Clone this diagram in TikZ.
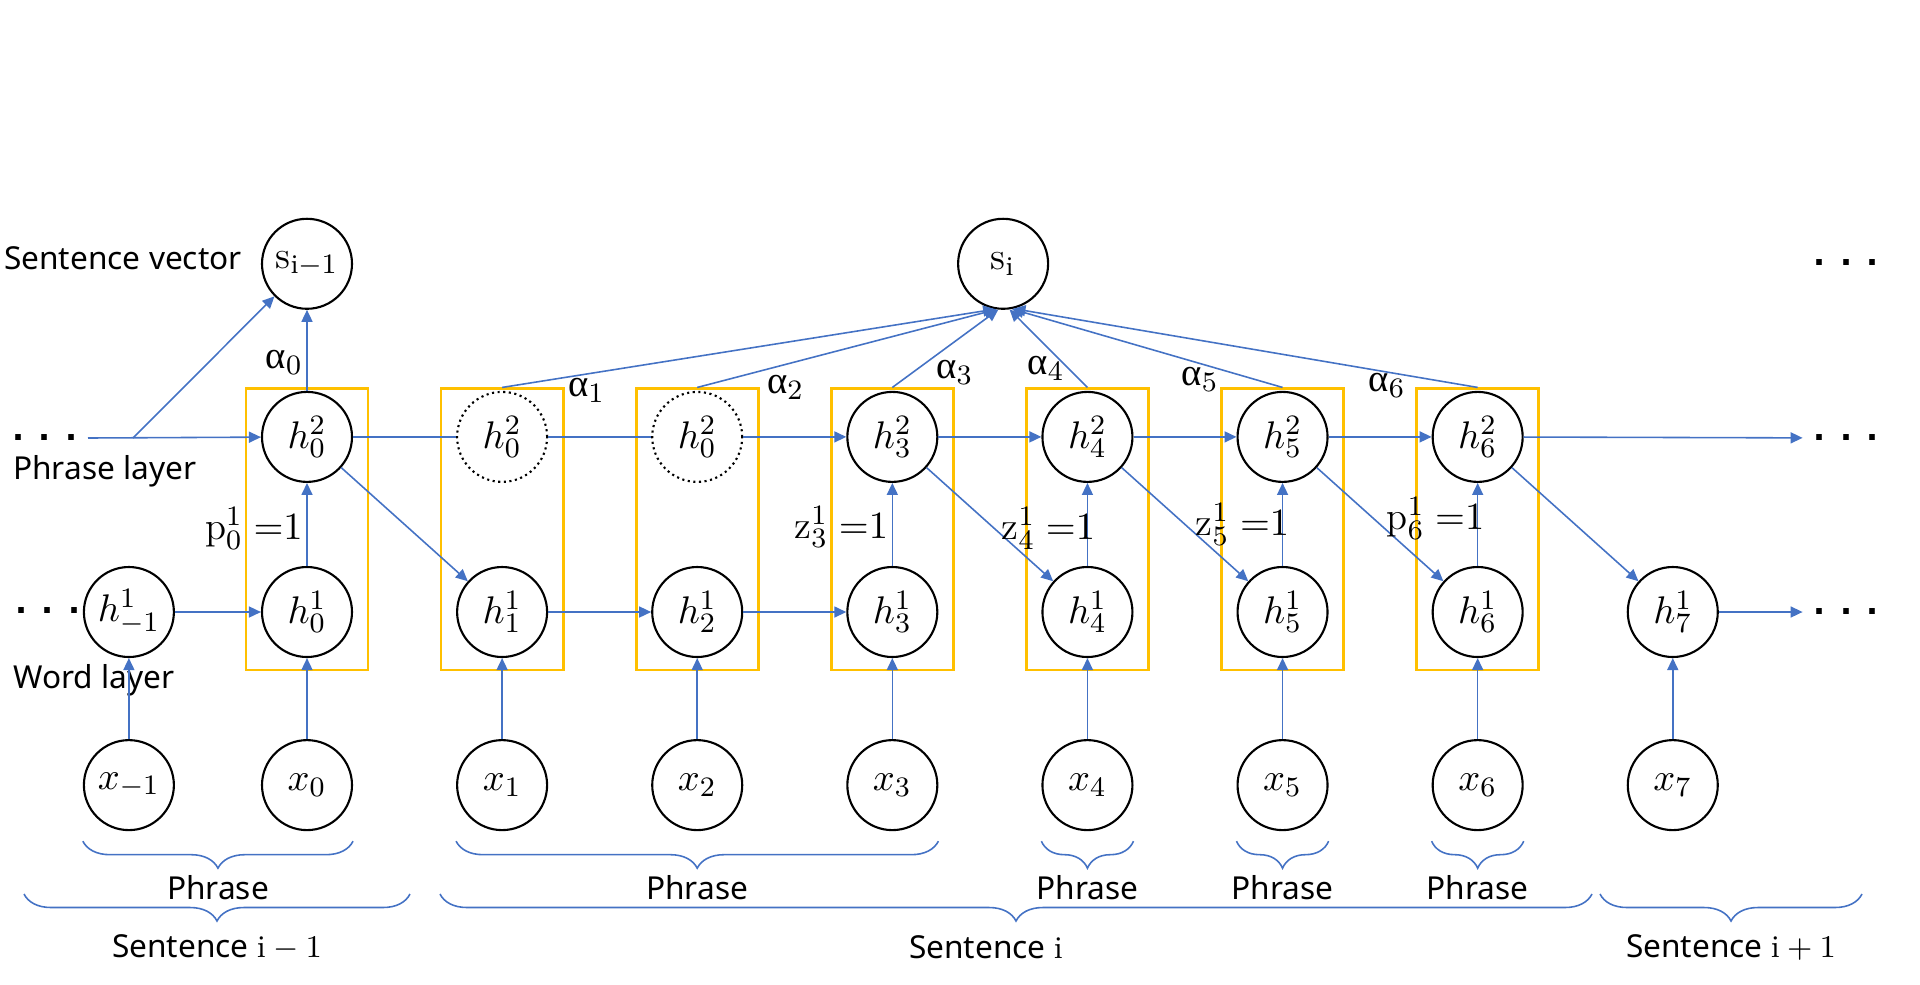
\documentclass[tikz,border=0pt]{standalone}
\usepackage{fontspec}
\usepackage{tikz}
\usetikzlibrary{arrows.meta,positioning,fit,calc,decorations.pathreplacing}
\newfontfamily\lblfont{Noto Sans}
\newfontfamily\dotfont{DejaVu Sans}
\newfontfamily\grkfont{Liberation Serif}
\definecolor{arrblue}{HTML}{4472C4}
\definecolor{boxgold}{HTML}{FFC000}
\newcommand{\alp}[1]{{\grkfont α}$_{#1}$}

\begin{document}
\begin{tikzpicture}[
  node distance=8.3mm and 10.3mm,
  hid/.style={circle,draw=black,line width=0.6pt,minimum size=9mm,inner sep=0pt,font=\fontsize{11}{13}\selectfont},
  ghost/.style={hid,densely dotted},
  arr/.style={draw=arrblue,line width=0.45pt,-{Triangle[length=1.2mm,width=1.1mm]}},
  lin/.style={draw=arrblue,line width=0.45pt},
  pbox/.style={draw=boxgold,line width=0.8pt,inner xsep=1.5mm,inner ysep=0.2mm},
  lbl/.style={font=\lblfont\fontsize{9}{11}\selectfont,inner sep=1pt},
  gr/.style={font=\fontsize{11}{13}\selectfont,inner sep=1pt},
  dots/.style={font=\dotfont\bfseries\fontsize{9}{10}\selectfont,inner sep=1mm},
  brc/.style={draw=arrblue,line width=0.45pt,decorate,decoration={brace,mirror,amplitude=2.7mm}}]

  \useasboundingbox (0,0) rectangle (19.2,-9.84);

  % word layer
  \node[hid] (w0) at (3.07,-6.12) {$h^1_0$};
  \node[hid,left=8.6mm of w0] (wm) {$h^1_{-1}$};
  \node[hid,right=of w0] (w1) {$h^1_1$};
  \node[hid,right=of w1] (w2) {$h^1_2$};
  \node[hid,right=of w2] (w3) {$h^1_3$};
  \node[hid,right=of w3] (w4) {$h^1_4$};
  \node[hid,right=of w4] (w5) {$h^1_5$};
  \node[hid,right=of w5] (w6) {$h^1_6$};
  \node[hid,right=of w6] (w7) {$h^1_7$};

  % input words
  \node[hid,below=8.1mm of wm] (xm) {$x_{-1}$};
  \node[hid,below=8.1mm of w0] (x0) {$x_0$};
  \node[hid,below=8.1mm of w1] (x1) {$x_1$};
  \node[hid,below=8.1mm of w2] (x2) {$x_2$};
  \node[hid,below=8.1mm of w3] (x3) {$x_3$};
  \node[hid,below=8.1mm of w4] (x4) {$x_4$};
  \node[hid,below=8.1mm of w5] (x5) {$x_5$};
  \node[hid,below=8.1mm of w6] (x6) {$x_6$};
  \node[hid,below=8.1mm of w7] (x7) {$x_7$};

  % phrase layer
  \node[hid,above=of w0] (p0) {$h^2_0$};
  \node[ghost,above=of w1] (p1) {$h^2_0$};
  \node[ghost,above=of w2] (p2) {$h^2_0$};
  \node[hid,above=of w3] (p3) {$h^2_3$};
  \node[hid,above=of w4] (p4) {$h^2_4$};
  \node[hid,above=of w5] (p5) {$h^2_5$};
  \node[hid,above=of w6] (p6) {$h^2_6$};

  % sentence vectors
  \node[hid,above=8.1mm of p0] (s0) {$\mathrm{s}_{\mathrm{i}-1}$};
  \node[hid,right=60.4mm of s0] (si) {$\mathrm{s}_{\mathrm{i}}$};

  % phrase boxes
  \node[pbox,fit={(p0)(w0)([yshift=-1mm]w0.south)}] (b0) {};
  \node[pbox,fit={(p1)(w1)([yshift=-1mm]w1.south)}] (b1) {};
  \node[pbox,fit={(p2)(w2)([yshift=-1mm]w2.south)}] (b2) {};
  \node[pbox,fit={(p3)(w3)([yshift=-1mm]w3.south)}] (b3) {};
  \node[pbox,fit={(p4)(w4)([yshift=-1mm]w4.south)}] (b4) {};
  \node[pbox,fit={(p5)(w5)([yshift=-1mm]w5.south)}] (b5) {};
  \node[pbox,fit={(p6)(w6)([yshift=-1mm]w6.south)}] (b6) {};

  % dots and side labels
  \node[dots] (dl1) at (0.45,-4.38) {. . .};
  \node[dots] (dl2) at (0.48,-6.10) {. . .};
  \node[dots] (dr0) at (18.46,-2.63) {. . .};
  \node[dots] (dr1) at (18.46,-4.38) {. . .};
  \node[dots] (dr2) at (18.46,-6.12) {. . .};
  \coordinate (ls) at (0.88,-4.38);
  \coordinate (lb) at (1.33,-4.38);
  \node[lbl,left=1.5mm of s0,yshift=0.6mm] (sv) {Sentence vector};
  \node[lbl,anchor=west] (pl) at (0.09,-4.71) {Phrase layer};
  \node[lbl,anchor=west] (wl) at (0.09,-6.80) {Word layer};

  % phrase layer links
  \draw[arr] (ls) -- (p0);
  \draw[arr] (lb) -- (s0.225);
  \draw[arr] (p0) -- node[gr,left,pos=0.35] {\alp{0}} (s0);
  \draw[lin] (p0) -- (p1);
  \draw[lin] (p1) -- (p2);
  \draw[arr] (p2) -- (p3);
  \draw[arr] (p3) -- (p4);
  \draw[arr] (p4) -- (p5);
  \draw[arr] (p5) -- (p6);
  \draw[arr] (p6) -- (dr1);

  % word layer links
  \draw[arr] (wm) -- (w0);
  \draw[arr] (w1) -- (w2);
  \draw[arr] (w2) -- (w3);
  \draw[arr] (w7) -- (dr2);
  \draw[arr] (p0) -- (w1);
  \draw[arr] (p3) -- (w4);
  \draw[arr] (p4) -- (w5);
  \draw[arr] (p5) -- (w6);
  \draw[arr] (p6) -- (w7);

  % boundaries
  \draw[arr] (w0) -- node[gr,left,pos=0.45] {$\mathrm{p}^1_0\;{=}1$} (p0);
  \draw[arr] (w3) -- node[gr,left,pos=0.47] {$\mathrm{z}^1_3\;{=}1$} (p3);
  \draw[arr] (w4) -- node[gr,left,pos=0.45,xshift=1.2mm] {$\mathrm{z}^1_4\;{=}1$} (p4);
  \draw[arr] (w5) -- node[gr,left,pos=0.5,xshift=1.1mm] {$\mathrm{z}^1_5\;{=}1$} (p5);
  \draw[arr] (w6) -- node[gr,left,pos=0.57,xshift=1.1mm] {$\mathrm{p}^1_6\;{=}1$} (p6);

  % inputs
  \draw[arr] (xm) -- (wm);
  \draw[arr] (x0) -- (w0);
  \draw[arr] (x1) -- (w1);
  \draw[arr] (x2) -- (w2);
  \draw[arr] (x3) -- (w3);
  \draw[arr] (x4) -- (w4);
  \draw[arr] (x5) -- (w5);
  \draw[arr] (x6) -- (w6);
  \draw[arr] (x7) -- (w7);

  % attention to sentence i
  \draw[arr] (b1.north) -- (si.-100);
  \draw[arr] (b2.north) -- (si.-98);
  \draw[arr] (b3.north) -- (si.-96);
  \draw[arr] (b4.north) -- (si.-82);
  \draw[arr] (b5.north) -- (si.-79);
  \draw[arr] (b6.north) -- (si.-77);
  \node[gr] (a1) at ($(b1.north east)+(2.2mm,-0.3mm)$) {\alp{1}};
  \node[gr] (a2) at ($(b2.north east)+(2.6mm,0)$) {\alp{2}};
  \node[gr] (a3) at ($(b3.north east)+(0,1.5mm)$) {\alp{3}};
  \node[gr] (a4) at ($(b4.north west)+(2.1mm,1.9mm)$) {\alp{4}};
  \node[gr] (a5) at ($(b5.north west)+(-2mm,0.8mm)$) {\alp{5}};
  \node[gr] (a6) at ($(b6.north west)+(-2.8mm,0.2mm)$) {\alp{6}};

  % phrase braces
  \draw[brc] ($(xm.west |- xm.south)+(0,-1mm)$) -- node[lbl,midway,yshift=-4.6mm] {Phrase} ($(x0.east |- x0.south)+(0,-1mm)$);
  \draw[brc] ($(x1.west |- x1.south)+(0,-1mm)$) -- node[lbl,midway,yshift=-4.6mm] {Phrase} ($(x3.east |- x3.south)+(0,-1mm)$);
  \draw[brc] ($(x4.west |- x4.south)+(0,-1mm)$) -- node[lbl,midway,yshift=-4.6mm] {Phrase} ($(x4.east |- x4.south)+(0,-1mm)$);
  \draw[brc] ($(x5.west |- x5.south)+(0,-1mm)$) -- node[lbl,midway,yshift=-4.6mm] {Phrase} ($(x5.east |- x5.south)+(0,-1mm)$);
  \draw[brc] ($(x6.west |- x6.south)+(0,-1mm)$) -- node[lbl,midway,yshift=-4.6mm] {Phrase} ($(x6.east |- x6.south)+(0,-1mm)$);

  % sentence braces
  \draw[brc] (0.24,-8.94) -- node[lbl,midway,yshift=-5.3mm] {Sentence $\mathrm{i}-1$} (4.10,-8.94);
  \draw[brc] (4.40,-8.94) -- node[lbl,midway,yshift=-5.3mm,xshift=-3mm] {Sentence $\mathrm{i}$} (15.92,-8.94);
  \draw[brc] (16.00,-8.94) -- node[lbl,midway,yshift=-5.3mm] {Sentence $\mathrm{i}+1$} (18.62,-8.94);

\end{tikzpicture}
\end{document}
